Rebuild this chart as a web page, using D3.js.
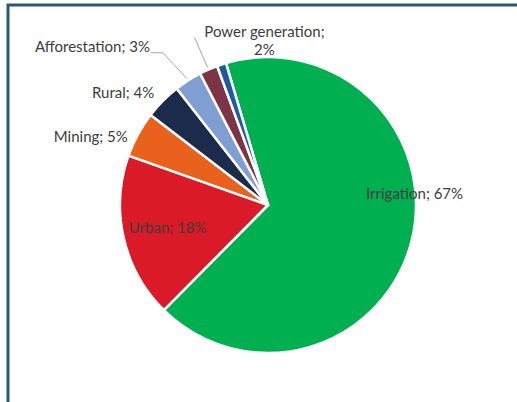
<!DOCTYPE html>
<html>
<head>
<meta charset="utf-8">
<script src="https://cdn.jsdelivr.net/npm/d3@7"></script>
<style>
  body { margin: 0; background: #fff; }
  svg text { font-family: Lato, "Open Sans", sans-serif; fill: #3d3d3d; }
</style>
</head>
<body>
<div id="chart"></div>
<script>
// DATA
var categories = ["Irrigation", "Urban", "Mining", "Rural", "Afforestation", "Power generation", "Other"];
var shares = [67, 18, 5, 4, 3, 2, 1];
var labels = ["Irrigation; 67%", "Urban; 18%", "Mining; 5%", "Rural; 4%", "Afforestation; 3%", "Power generation;|2%", ""];
var colors = ["#00b050", "#da1a27", "#ea611d", "#1c2b4c", "#7f9fd2", "#7c3446", "#1f5b9c"];

var width = 517, height = 402;
var cx = 268, cy = 205, R = 148;
var startDeg = -16.5;

var svg = d3.select("#chart").append("svg")
	.attr("width", width)
	.attr("height", height);

// frame
svg.append("rect")
	.attr("x", 8).attr("y", 5)
	.attr("width", width + 20).attr("height", height + 20)
	.attr("fill", "none")
	.attr("stroke", "#2b5877")
	.attr("stroke-width", 3);

var pie = d3.pie()
	.sort(null)
	.startAngle(startDeg * Math.PI / 180)
	.endAngle((startDeg + 360) * Math.PI / 180);

var arc = d3.arc().innerRadius(0).outerRadius(R);

var arcs = pie(shares);

var g = svg.append("g").attr("transform", "translate(" + cx + "," + cy + ")");

g.selectAll("path")
	.data(arcs)
	.join("path")
	.attr("d", arc)
	.attr("fill", function(d, i){ return colors[i]; })
	.attr("stroke", "#fff")
	.attr("stroke-width", 2.5)
	.attr("stroke-linejoin", "round");

function pt(a, r){
	return [r * Math.sin(a), -r * Math.cos(a)];
}
function mid(d){ return (d.startAngle + d.endAngle) / 2; }
var deg = Math.PI / 180;

// label placement per slice (radius, angle shift in deg, anchor)
var place = {
	"Irrigation": {r: 147, shift: -18.6, anchor: "middle"},
	"Urban": {r: 103, shift: 0, anchor: "middle"},
	"Mining": {r: 156, shift: -2.5, anchor: "end"},
	"Rural": {r: 160, shift: 0, anchor: "end"}
};

var fs = 15;

arcs.forEach(function(d, i){
	var name = categories[i];
	var txt = labels[i];
	if (!txt) return;
	var a = mid(d);
	if (place[name]) {
		var p = place[name];
		var q = pt(a + p.shift * deg, p.r);
		g.append("text")
			.attr("x", q[0]).attr("y", q[1])
			.attr("dy", "0.35em")
			.attr("text-anchor", p.anchor)
			.style("font-size", fs + "px")
			.text(txt);
	} else if (name == "Afforestation") {
		var s = pt(a, R + 2), e = pt(a - 1.9 * deg, 185);
		g.append("polyline")
			.attr("points", [s, e, [e[0] - 12, e[1]]].map(function(v){ return v.join(","); }).join(" "))
			.attr("fill", "none").attr("stroke", "#a6a6a6").attr("stroke-width", 1);
		g.append("text")
			.attr("x", e[0] - 13).attr("y", e[1] - 6)
			.attr("dy", "0.35em")
			.attr("text-anchor", "end")
			.style("font-size", fs + "px")
			.text(txt);
	} else {
		var s2 = pt(a, R + 2), e2 = pt(a, 183);
		g.append("line")
			.attr("x1", s2[0]).attr("y1", s2[1])
			.attr("x2", e2[0]).attr("y2", e2[1])
			.attr("stroke", "#a6a6a6").attr("stroke-width", 1);
		var parts = txt.split("|");
		var tcx = e2[0] + 70;
		g.selectAll(null)
			.data(parts)
			.join("text")
			.attr("x", tcx)
			.attr("y", function(t, k){ return e2[1] - 6 + k * 18; })
			.attr("dy", "0.35em")
			.attr("text-anchor", "middle")
			.style("font-size", fs + "px")
			.text(function(t){ return t; });
	}
});
</script>
</body>
</html>
